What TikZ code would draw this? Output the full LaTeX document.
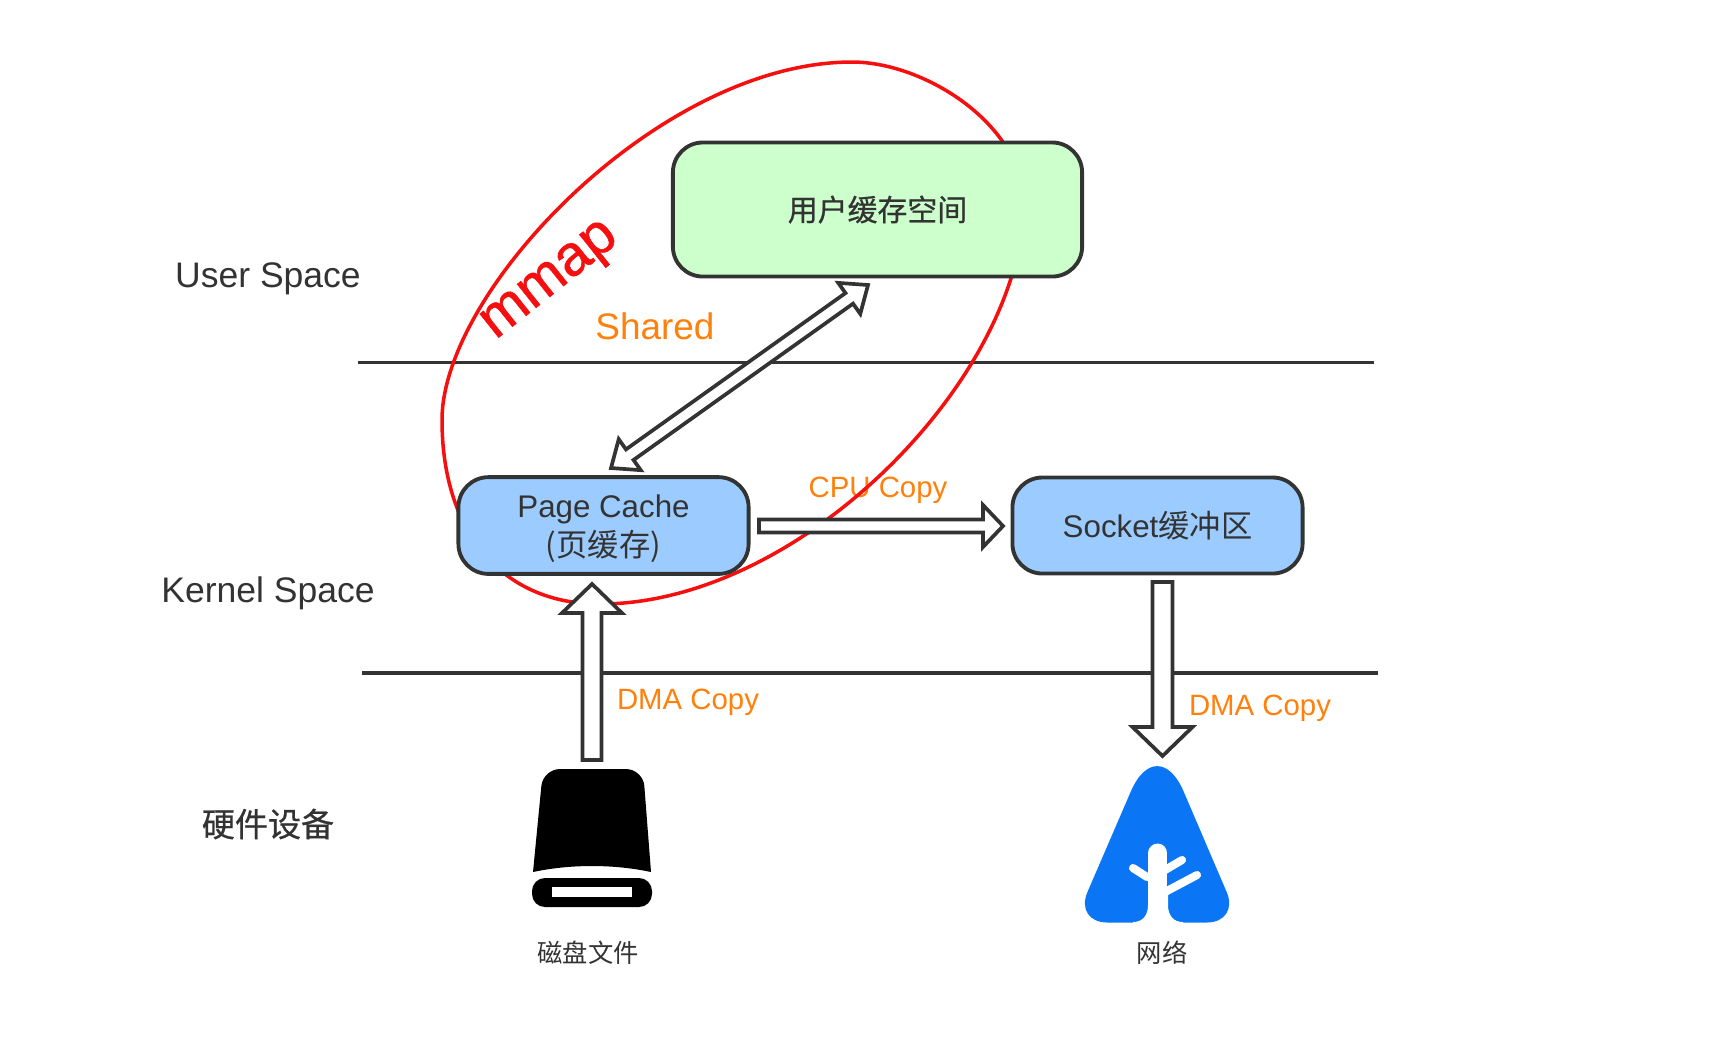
\documentclass[tikz,border=0pt]{standalone}
\usepackage{fontspec}
\setmainfont{Liberation Sans}
\newfontfamily\cjk{Noto Sans CJK SC}
\newfontfamily\cjkheavy[FakeBold=0.7]{Noto Sans CJK SC}
\newfontfamily\heavy[FakeBold=1]{Liberation Sans}
\usetikzlibrary{calc}
\definecolor{cline}{RGB}{51,51,51}
\definecolor{cgreen}{RGB}{204,255,204}
\definecolor{cblue}{RGB}{156,204,255}
\definecolor{corange}{RGB}{255,128,10}
\definecolor{cred}{RGB}{245,15,15}
\definecolor{cnet}{RGB}{10,118,246}

\begin{document}
\begin{tikzpicture}[
    x=0.01cm, y=-0.01cm,
    bigfont/.style={font=\fontsize{10.1}{12}\selectfont, text=cline},
    copylabel/.style={font=\fontsize{8.35}{10}\selectfont, text=corange},
    iconlabel/.style={font=\fontsize{7.2}{9}\cjk\selectfont, text=cline},
    buffer/.style={draw=cline, rounded corners=0.3cm, line width=1.1pt, font=\fontsize{8.9}{10.9}\selectfont,
                   text=cline, align=center, minimum width=2.9cm, minimum height=0.96cm},
    spaceline/.style={draw=cline, line width=0.95pt},
    blockarrow/.style n args={3}{draw=cline, fill=white, line width=1.05pt, miter limit=10, to path={
      ($(\tikztostart)!#1!90:(\tikztotarget)$)
      -- ($(\tikztotarget)!#3!(\tikztostart)!#1!90:(\tikztotarget)$)
      -- ($(\tikztotarget)!#3!(\tikztostart)!#2!90:(\tikztotarget)$)
      -- (\tikztotarget)
      -- ($(\tikztotarget)!#3!(\tikztostart)!#2!-90:(\tikztotarget)$)
      -- ($(\tikztotarget)!#3!(\tikztostart)!#1!-90:(\tikztotarget)$)
      -- ($(\tikztostart)!#1!-90:(\tikztotarget)$) -- cycle}},
    bothways/.style n args={3}{draw=cline, fill=white, line width=1.05pt, miter limit=10, to path={
      (\tikztostart)
      -- ($(\tikztostart)!#3!(\tikztotarget)!#2!-90:(\tikztostart)$)
      -- ($(\tikztostart)!#3!(\tikztotarget)!#1!-90:(\tikztostart)$)
      -- ($(\tikztotarget)!#3!(\tikztostart)!#1!90:(\tikztotarget)$)
      -- ($(\tikztotarget)!#3!(\tikztostart)!#2!90:(\tikztotarget)$)
      -- (\tikztotarget)
      -- ($(\tikztotarget)!#3!(\tikztostart)!#2!-90:(\tikztotarget)$)
      -- ($(\tikztotarget)!#3!(\tikztostart)!#1!-90:(\tikztotarget)$)
      -- ($(\tikztostart)!#3!(\tikztotarget)!#1!90:(\tikztostart)$)
      -- ($(\tikztostart)!#3!(\tikztotarget)!#2!90:(\tikztostart)$) -- cycle}}
  ]
  \useasboundingbox (0,0) rectangle (1716,1056);

  \coordinate (userleft) at (358,362.5);
  \coordinate (userright) at (1374,362.5);
  \coordinate (kernelleft) at (362,673);
  \coordinate (kernelright) at (1378,673);
  \draw[spaceline] (userleft) -- (userright);
  \draw[spaceline] (kernelleft) -- (kernelright);

  \node[bigfont] (userspace) at (268,279) {User Space};
  \node[bigfont] (kernelspace) at (268,593) {Kernel Space};
  \node[bigfont, font=\fontsize{9.4}{12}\cjkheavy\selectfont] (hardware) at (268,824) {硬件设备};

  \node[font=\fontsize{10.5}{12}\selectfont, text=corange] (shared) at (655,326) {Shared};
  \node[copylabel] (cpucopy) at (878,490) {CPU Copy};
  \node[copylabel] (dmaleft) at (688,702) {DMA Copy};
  \node[copylabel] (dmaright) at (1260,708) {DMA Copy};

  \draw[cred, line width=1pt] (442,420) .. controls (442,290) and (660,62) .. (852,62)
    .. controls (925,62) and (1024,125) .. (1024,205)
    .. controls (1020,380) and (800,604) .. (600,604)
    .. controls (500,604) and (442,530) .. (442,420) -- cycle;
  \node[font=\fontsize{16.3}{20}\heavy\selectfont, text=cred, rotate=38.5] (mmap) at (552,283) {mmap};

  \coordinate (pagetop) at (611,468);
  \coordinate (userin) at (868,285);
  \draw[bothways={0.065cm}{0.19cm}{0.23cm}] (pagetop) to (userin);

  \node[buffer, fill=cgreen, minimum width=4.09cm, minimum height=1.34cm] (user) at (877.5,209.5)
    {\fontsize{8.5}{11}\cjkheavy\selectfont 用户缓存空间};
  \node[buffer, fill=cblue] (page) at (603.5,525.5) {\rule{0pt}{8.2pt}Page Cache\\{\cjk (页缓存)}};
  \node[buffer, fill=cblue] (socket) at (1157.5,525.5) {Socket{\cjk 缓冲区}};

  \fill[black] (533,872) [rounded corners=0.17cm] -- (543,769) -- (643,769) [sharp corners] -- (651,872)
    .. controls (614,864) and (570,864) .. cycle;
  \fill[black, rounded corners=0.13cm] (532,878) rectangle (652,907);
  \fill[white] (552,887) rectangle (632,897);
  \node[minimum width=1.2cm, minimum height=1.5cm, inner sep=0pt] (disk) at (592,835) {};
  \node[iconlabel] (disklabel) at (588,953) {磁盘文件};

  \fill[cnet] (1157,922.5) [rounded corners=0.33cm] -- (1239.7,922.5) [rounded corners=0.67cm] -- (1157.3,730) [rounded corners=0.33cm] -- (1074.3,922.5) -- cycle;
  \draw[white, line width=5.4pt, line cap=round] (1157.8,853) -- (1157.8,900);
  \fill[white] (1148,895) -- (1148,905) .. controls (1148,915) and (1143,922) .. (1133,922) -- (1133,925) -- (1183,925) -- (1183,922) .. controls (1173,922) and (1168,915) .. (1168,905) -- (1168,895) -- cycle;
  \draw[white, line width=2.3pt, line cap=round] (1133,868) -- (1147,877);
  \draw[white, line width=2.3pt, line cap=round] (1182,860) -- (1165,870);
  \draw[white, line width=2.3pt, line cap=round] (1197,875) -- (1165,892);
  \node[minimum width=1.44cm, minimum height=1.6cm, inner sep=0pt] (network) at (1157,843) {};
  \node[iconlabel] (netlabel) at (1162,953) {网络};

  \coordinate (pagein) at (592,584);
  \coordinate (diskout) at (592,760);
  \coordinate (pageout) at (759,526);
  \coordinate (socketin) at (1003,526);
  \coordinate (socketout) at (1162.5,582);
  \coordinate (netin) at (1162.5,756);

  \draw[blockarrow={0.095cm}{0.3cm}{0.29cm}] (diskout) to (pagein);
  \draw[blockarrow={0.1cm}{0.3cm}{0.29cm}] (socketout) to (netin);
  \draw[blockarrow={0.065cm}{0.21cm}{0.2cm}] (pageout) to (socketin);
\end{tikzpicture}
\end{document}
